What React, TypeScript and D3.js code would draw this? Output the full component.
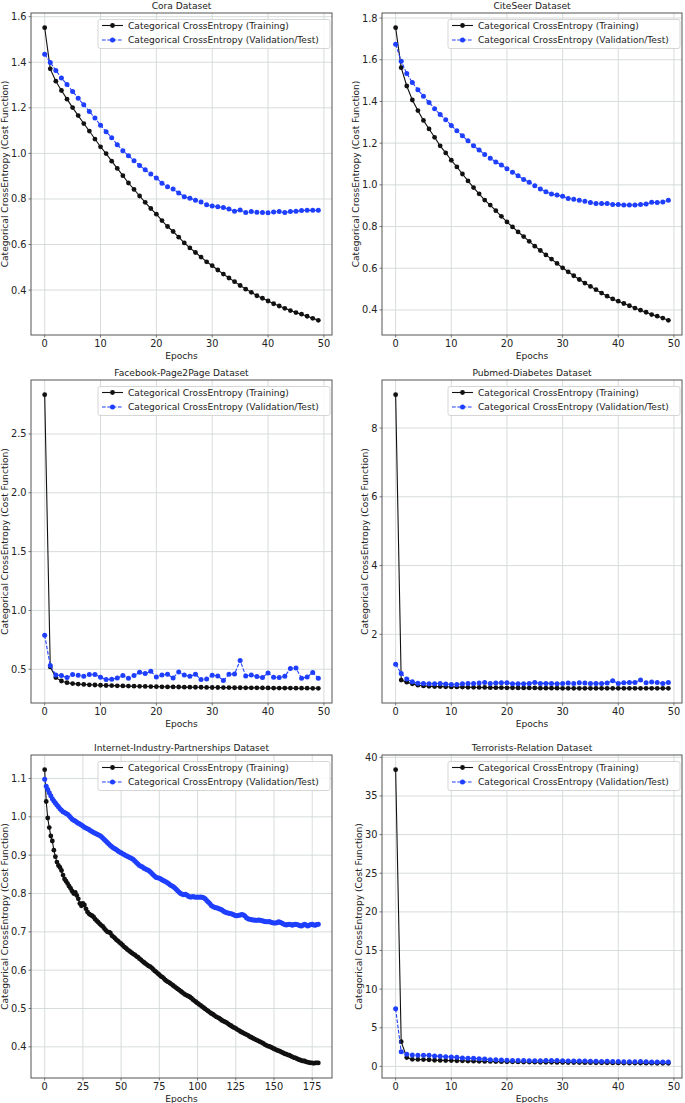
import React from "react";
import * as d3 from "d3";

// ---------- DATA ----------
const coraTrain = [1.552, 1.371, 1.317, 1.276, 1.238, 1.201, 1.166, 1.131, 1.098, 1.063,
  1.029, 0.999, 0.966, 0.934, 0.902, 0.870, 0.842, 0.813, 0.785, 0.758,
  0.733, 0.705, 0.679, 0.657, 0.632, 0.607, 0.585, 0.565, 0.545, 0.524,
  0.507, 0.488, 0.470, 0.453, 0.437, 0.420, 0.404, 0.390, 0.375, 0.364,
  0.352, 0.340, 0.330, 0.320, 0.310, 0.301, 0.294, 0.285, 0.276, 0.267];
const coraVal = [1.435, 1.399, 1.364, 1.331, 1.302, 1.272, 1.242, 1.213, 1.184, 1.155,
  1.124, 1.095, 1.069, 1.038, 1.012, 0.990, 0.968, 0.947, 0.928, 0.909,
  0.892, 0.869, 0.853, 0.844, 0.826, 0.810, 0.803, 0.794, 0.787, 0.775,
  0.769, 0.766, 0.762, 0.756, 0.746, 0.752, 0.740, 0.745, 0.742, 0.740,
  0.739, 0.743, 0.745, 0.740, 0.745, 0.746, 0.749, 0.750, 0.750, 0.750];

const citeTrain = [1.754, 1.562, 1.474, 1.407, 1.356, 1.309, 1.268, 1.228, 1.187, 1.153,
  1.118, 1.086, 1.052, 1.019, 0.987, 0.957, 0.927, 0.903, 0.876, 0.849,
  0.822, 0.798, 0.774, 0.752, 0.729, 0.706, 0.685, 0.664, 0.644, 0.623,
  0.602, 0.583, 0.564, 0.546, 0.529, 0.513, 0.497, 0.481, 0.466, 0.453,
  0.442, 0.431, 0.420, 0.409, 0.399, 0.389, 0.378, 0.370, 0.361, 0.350];
const citeVal = [1.674, 1.593, 1.534, 1.491, 1.456, 1.425, 1.395, 1.365, 1.337, 1.312,
  1.285, 1.259, 1.235, 1.211, 1.187, 1.167, 1.146, 1.128, 1.110, 1.095,
  1.077, 1.060, 1.044, 1.026, 1.012, 0.996, 0.980, 0.967, 0.956, 0.951,
  0.945, 0.935, 0.931, 0.926, 0.921, 0.915, 0.910, 0.910, 0.910, 0.906,
  0.906, 0.903, 0.903, 0.903, 0.906, 0.908, 0.916, 0.915, 0.918, 0.926];

const fbTrain = [2.834, 0.52, 0.429, 0.40, 0.386, 0.378, 0.374, 0.371, 0.368, 0.366,
  0.364, 0.362, 0.361, 0.359, 0.358, 0.357, 0.356, 0.355, 0.354, 0.353,
  0.352, 0.351, 0.350, 0.350, 0.349, 0.348, 0.348, 0.347, 0.347, 0.346,
  0.345, 0.345, 0.344, 0.344, 0.343, 0.343, 0.342, 0.342, 0.342, 0.341,
  0.341, 0.340, 0.340, 0.340, 0.340, 0.339, 0.339, 0.339, 0.338, 0.338];
const fbVal = [0.789, 0.531, 0.452, 0.446, 0.429, 0.455, 0.449, 0.440, 0.455, 0.455,
  0.432, 0.412, 0.415, 0.426, 0.446, 0.423, 0.446, 0.474, 0.463, 0.483,
  0.435, 0.452, 0.457, 0.426, 0.477, 0.452, 0.440, 0.457, 0.412, 0.418,
  0.449, 0.443, 0.404, 0.457, 0.460, 0.575, 0.443, 0.452, 0.438, 0.429,
  0.469, 0.432, 0.429, 0.440, 0.506, 0.511, 0.423, 0.435, 0.472, 0.423];

const pubTrain = [8.97, 0.67, 0.61, 0.56, 0.52, 0.50, 0.49, 0.48, 0.48, 0.475,
  0.47, 0.47, 0.465, 0.46, 0.46, 0.455, 0.455, 0.45, 0.45, 0.45,
  0.445, 0.445, 0.44, 0.44, 0.44, 0.44, 0.435, 0.435, 0.435, 0.435,
  0.43, 0.43, 0.43, 0.43, 0.43, 0.43, 0.43, 0.43, 0.43, 0.43,
  0.43, 0.43, 0.43, 0.43, 0.43, 0.43, 0.43, 0.43, 0.43, 0.43];
const pubVal = [1.13, 0.86, 0.70, 0.62, 0.58, 0.573, 0.563, 0.563, 0.573, 0.553,
  0.544, 0.544, 0.563, 0.573, 0.573, 0.583, 0.602, 0.573, 0.583, 0.592,
  0.592, 0.563, 0.563, 0.563, 0.573, 0.602, 0.573, 0.573, 0.573, 0.563,
  0.573, 0.583, 0.573, 0.592, 0.583, 0.573, 0.573, 0.573, 0.583, 0.650,
  0.573, 0.592, 0.602, 0.602, 0.670, 0.592, 0.612, 0.602, 0.573, 0.602];

const iipTrain = [1.123, 1.040, 0.997, 0.972, 0.950, 0.937, 0.913, 0.896, 0.882, 0.873,
  0.868, 0.860, 0.848, 0.838, 0.832, 0.826, 0.819, 0.813, 0.806, 0.800,
  0.803, 0.795, 0.786, 0.774, 0.768, 0.774, 0.770, 0.760, 0.752, 0.747,
  0.744, 0.742, 0.739, 0.733, 0.729, 0.725, 0.721, 0.717, 0.714, 0.709,
  0.704, 0.700, 0.699, 0.697, 0.690, 0.687, 0.683, 0.679, 0.676, 0.672,
  0.669, 0.665, 0.661, 0.658, 0.654, 0.651, 0.648, 0.645, 0.642, 0.640,
  0.636, 0.634, 0.630, 0.627, 0.623, 0.620, 0.617, 0.614, 0.611, 0.609,
  0.606, 0.602, 0.598, 0.595, 0.591, 0.588, 0.584, 0.582, 0.578, 0.574,
  0.571, 0.569, 0.566, 0.563, 0.560, 0.557, 0.554, 0.551, 0.548, 0.545,
  0.542, 0.539, 0.536, 0.534, 0.532, 0.530, 0.527, 0.523, 0.520, 0.517,
  0.514, 0.511, 0.508, 0.505, 0.502, 0.499, 0.496, 0.493, 0.490, 0.487,
  0.485, 0.482, 0.479, 0.477, 0.475, 0.472, 0.469, 0.467, 0.465, 0.463,
  0.460, 0.457, 0.455, 0.452, 0.450, 0.448, 0.445, 0.443, 0.440, 0.438,
  0.436, 0.434, 0.432, 0.430, 0.427, 0.425, 0.423, 0.421, 0.419, 0.417,
  0.415, 0.413, 0.411, 0.409, 0.406, 0.404, 0.402, 0.401, 0.399, 0.397,
  0.395, 0.393, 0.391, 0.390, 0.388, 0.386, 0.384, 0.382, 0.381, 0.379,
  0.378, 0.376, 0.374, 0.372, 0.371, 0.369, 0.367, 0.366, 0.364, 0.363,
  0.363, 0.361, 0.360, 0.359, 0.358, 0.358, 0.357, 0.358, 0.358, 0.358];
const iipVal = [1.098, 1.080, 1.071, 1.063, 1.055, 1.047, 1.041, 1.036, 1.031, 1.026,
  1.021, 1.017, 1.013, 1.011, 1.009, 1.007, 1.003, 0.998, 0.994, 0.991,
  0.989, 0.986, 0.983, 0.981, 0.979, 0.976, 0.973, 0.971, 0.969, 0.967,
  0.964, 0.962, 0.959, 0.957, 0.955, 0.953, 0.951, 0.949, 0.945, 0.941,
  0.937, 0.933, 0.929, 0.925, 0.922, 0.919, 0.917, 0.914, 0.911, 0.908,
  0.906, 0.904, 0.902, 0.899, 0.897, 0.895, 0.893, 0.891, 0.889, 0.885,
  0.881, 0.877, 0.873, 0.871, 0.869, 0.866, 0.864, 0.862, 0.860, 0.857,
  0.853, 0.849, 0.845, 0.842, 0.841, 0.840, 0.838, 0.835, 0.833, 0.831,
  0.829, 0.826, 0.823, 0.820, 0.818, 0.815, 0.811, 0.807, 0.803, 0.800,
  0.798, 0.797, 0.798, 0.796, 0.793, 0.791, 0.791, 0.792, 0.791, 0.790,
  0.791, 0.790, 0.791, 0.790, 0.789, 0.786, 0.782, 0.778, 0.774, 0.769,
  0.766, 0.764, 0.763, 0.762, 0.760, 0.759, 0.757, 0.754, 0.752, 0.750,
  0.749, 0.748, 0.747, 0.746, 0.744, 0.742, 0.742, 0.743, 0.744, 0.745,
  0.744, 0.741, 0.737, 0.734, 0.733, 0.732, 0.731, 0.731, 0.730, 0.730,
  0.731, 0.730, 0.729, 0.728, 0.727, 0.726, 0.726, 0.727, 0.725, 0.724,
  0.723, 0.723, 0.724, 0.726, 0.725, 0.723, 0.721, 0.719, 0.718, 0.719,
  0.720, 0.719, 0.717, 0.719, 0.720, 0.719, 0.718, 0.716, 0.715, 0.718,
  0.720, 0.718, 0.715, 0.717, 0.719, 0.720, 0.718, 0.717, 0.719, 0.720];

const terTrain = [38.4, 3.2, 1.15, 0.92, 0.90, 0.88, 0.86, 0.80, 0.78, 0.76,
  0.75, 0.73, 0.72, 0.70, 0.68, 0.67, 0.65, 0.64, 0.62, 0.61,
  0.60, 0.59, 0.58, 0.57, 0.56, 0.55, 0.54, 0.53, 0.53, 0.52,
  0.51, 0.50, 0.50, 0.49, 0.48, 0.48, 0.47, 0.46, 0.46, 0.45,
  0.45, 0.44, 0.44, 0.43, 0.43, 0.42, 0.42, 0.41, 0.41, 0.40];
const terVal = [7.45, 1.9, 1.57, 1.48, 1.43, 1.43, 1.43, 1.35, 1.30, 1.26,
  1.22, 1.17, 1.09, 1.05, 1.04, 1.00, 0.96, 0.87, 0.85, 0.82,
  0.80, 0.78, 0.76, 0.75, 0.74, 0.73, 0.74, 0.76, 0.78, 0.75,
  0.72, 0.70, 0.69, 0.71, 0.70, 0.68, 0.66, 0.65, 0.66, 0.63,
  0.62, 0.60, 0.61, 0.60, 0.62, 0.59, 0.58, 0.57, 0.58, 0.57];

const ticks50 = [0, 10, 20, 30, 40, 50];
const ticks175 = [0, 25, 50, 75, 100, 125, 150, 175];
const coraY = [0.4, 0.6, 0.8, 1.0, 1.2, 1.4, 1.6];
const citeY = [0.4, 0.6, 0.8, 1.0, 1.2, 1.4, 1.6, 1.8];
const fbY = [0.5, 1.0, 1.5, 2.0, 2.5];
const pubY = [2, 4, 6, 8];
const iipY = [0.4, 0.5, 0.6, 0.7, 0.8, 0.9, 1.0, 1.1];
const terY = [0, 5, 10, 15, 20, 25, 30, 35, 40];

const titles = [
  "Cora Dataset",
  "CiteSeer Dataset",
  "Facebook-Page2Page Dataset",
  "Pubmed-Diabetes Dataset",
  "Internet-Industry-Partnerships Dataset",
  "Terrorists-Relation Dataset",
];
const legendLabels = [
  "Categorical CrossEntropy (Training)",
  "Categorical CrossEntropy (Validation/Test)",
];
const xLabel = "Epochs";
const yLabel = "Categorical CrossEntropy (Cost Function)";

// ---------- STYLE ----------
const FONT = "'DejaVu Sans', sans-serif";
const FS = 9.1;
const TFS = 9.8;
const BLUE = "#1f3fff";
const BLACK = "#111";
const GRID = "#d2d8d8";
const SPINE = "#555";
const TXT = "#222";

function estWidth(s: string) {
  let w = 0;
  for (const c of s) w += c === "." ? 0.318 : 0.636;
  return w * TFS;
}

type Box = { l: number; t: number; r: number; b: number };

function Panel(props: {
  title: string;
  box: Box;
  train: number[];
  val: number[];
  xTicks: number[];
  yTicks: number[];
  fmt: (v: number) => string;
}) {
  const { title, box, train, val, xTicks, yTicks, fmt } = props;
  const { l, t, r, b } = box;
  const xMax = train.length - 1;
  const x = d3.scaleLinear().domain([-0.05 * xMax, 1.05 * xMax]).range([l, r]);
  const [mn, mx] = d3.extent([...train, ...val]) as [number, number];
  const pad = 0.05 * (mx - mn);
  const y = d3.scaleLinear().domain([mn - pad, mx + pad]).range([b, t]);
  const line = d3
    .line<number>()
    .x((_, i) => x(i))
    .y((d) => y(d));
  const maxW = d3.max(yTicks, (v) => estWidth(fmt(v))) || 0;
  const ylx = l - 11 - maxW;
  const lgR = r - 2;
  const lgW = 232;
  const lgL = lgR - lgW;
  const lgT = t + 6.5;
  return (
    <g>
      {/* grid */}
      {xTicks.map((v) => (
        <line key={"gx" + v} x1={x(v)} x2={x(v)} y1={t} y2={b} stroke={GRID} strokeWidth={0.9} />
      ))}
      {yTicks.map((v) => (
        <line key={"gy" + v} x1={l} x2={r} y1={y(v)} y2={y(v)} stroke={GRID} strokeWidth={0.9} />
      ))}
      {/* series */}
      <path d={line(train) || ""} fill="none" stroke={BLACK} strokeWidth={1.1} />
      {train.map((d, i) => (
        <circle key={"t" + i} cx={x(i)} cy={y(d)} r={2.4} fill={BLACK} />
      ))}
      <path d={line(val) || ""} fill="none" stroke={BLUE} strokeWidth={1.1} strokeDasharray="3.7,1.6" />
      {val.map((d, i) => (
        <circle key={"v" + i} cx={x(i)} cy={y(d)} r={2.5} fill={BLUE} />
      ))}
      {/* frame */}
      <rect x={l} y={t} width={r - l} height={b - t} fill="none" stroke={SPINE} strokeWidth={1} />
      {/* x ticks */}
      {xTicks.map((v) => (
        <g key={"xt" + v}>
          <line x1={x(v)} x2={x(v)} y1={b} y2={b + 2.5} stroke={SPINE} strokeWidth={0.8} />
          <text x={x(v)} y={b + 11.6} textAnchor="middle" fontSize={TFS} fill={TXT}>
            {String(v)}
          </text>
        </g>
      ))}
      {/* y ticks */}
      {yTicks.map((v) => (
        <g key={"yt" + v}>
          <line x1={l - 2.5} x2={l} y1={y(v)} y2={y(v)} stroke={SPINE} strokeWidth={0.8} />
          <text x={l - 4.5} y={y(v) + 3.5} textAnchor="end" fontSize={TFS} fill={TXT}>
            {fmt(v)}
          </text>
        </g>
      ))}
      {/* labels */}
      <text x={(l + r) / 2} y={b + 23.5} textAnchor="middle" fontSize={FS} fill={TXT}>
        {xLabel}
      </text>
      <text
        transform={`translate(${ylx},${(t + b) / 2}) rotate(-90)`}
        textAnchor="middle"
        dy="0.35em"
        fontSize={FS}
        fill={TXT}
      >
        {yLabel}
      </text>
      <text x={(l + r) / 2} y={t - 4} textAnchor="middle" fontSize={FS} fill={TXT}>
        {title}
      </text>
      {/* legend */}
      <rect x={lgL} y={lgT} width={lgW} height={29} rx={2} fill="white" fillOpacity={0.85} stroke="#cccccc" strokeWidth={0.8} />
      <line x1={lgL + 4} x2={lgL + 25} y1={lgT + 6} y2={lgT + 6} stroke={BLACK} strokeWidth={1.1} />
      <circle cx={lgL + 14.5} cy={lgT + 6} r={2.4} fill={BLACK} />
      <text x={lgL + 30} y={lgT + 6 + 3.3} fontSize={FS} fill={TXT}>
        {legendLabels[0]}
      </text>
      <line x1={lgL + 4} x2={lgL + 25} y1={lgT + 20.5} y2={lgT + 20.5} stroke={BLUE} strokeWidth={1.1} strokeDasharray="3.7,1.6" />
      <circle cx={lgL + 14.5} cy={lgT + 20.5} r={2.5} fill={BLUE} />
      <text x={lgL + 30} y={lgT + 20.5 + 3.3} fontSize={FS} fill={TXT}>
        {legendLabels[1]}
      </text>
    </g>
  );
}

const f1 = (v: number) => d3.format(".1f")(v);
const f0 = (v: number) => d3.format("d")(v);

export default function App() {
  const boxes: Box[] = [
    { l: 31, t: 13, r: 332, b: 335 },
    { l: 382, t: 13, r: 682, b: 335 },
    { l: 31, t: 380, r: 332, b: 703 },
    { l: 382, t: 380, r: 682, b: 703 },
    { l: 31, t: 755, r: 332, b: 1078 },
    { l: 382, t: 755, r: 682, b: 1078 },
  ];
  return (
    <svg
      width={685}
      height={1103}
      style={{ position: "absolute", left: 0, top: 0, background: "white" }}
      fontFamily={FONT}
    >
      <rect width={685} height={1103} fill="white" />
      <Panel title={titles[0]} box={boxes[0]} train={coraTrain} val={coraVal} xTicks={ticks50} yTicks={coraY} fmt={f1} />
      <Panel title={titles[1]} box={boxes[1]} train={citeTrain} val={citeVal} xTicks={ticks50} yTicks={citeY} fmt={f1} />
      <Panel title={titles[2]} box={boxes[2]} train={fbTrain} val={fbVal} xTicks={ticks50} yTicks={fbY} fmt={f1} />
      <Panel title={titles[3]} box={boxes[3]} train={pubTrain} val={pubVal} xTicks={ticks50} yTicks={pubY} fmt={f0} />
      <Panel title={titles[4]} box={boxes[4]} train={iipTrain} val={iipVal} xTicks={ticks175} yTicks={iipY} fmt={f1} />
      <Panel title={titles[5]} box={boxes[5]} train={terTrain} val={terVal} xTicks={ticks50} yTicks={terY} fmt={f0} />
    </svg>
  );
}
